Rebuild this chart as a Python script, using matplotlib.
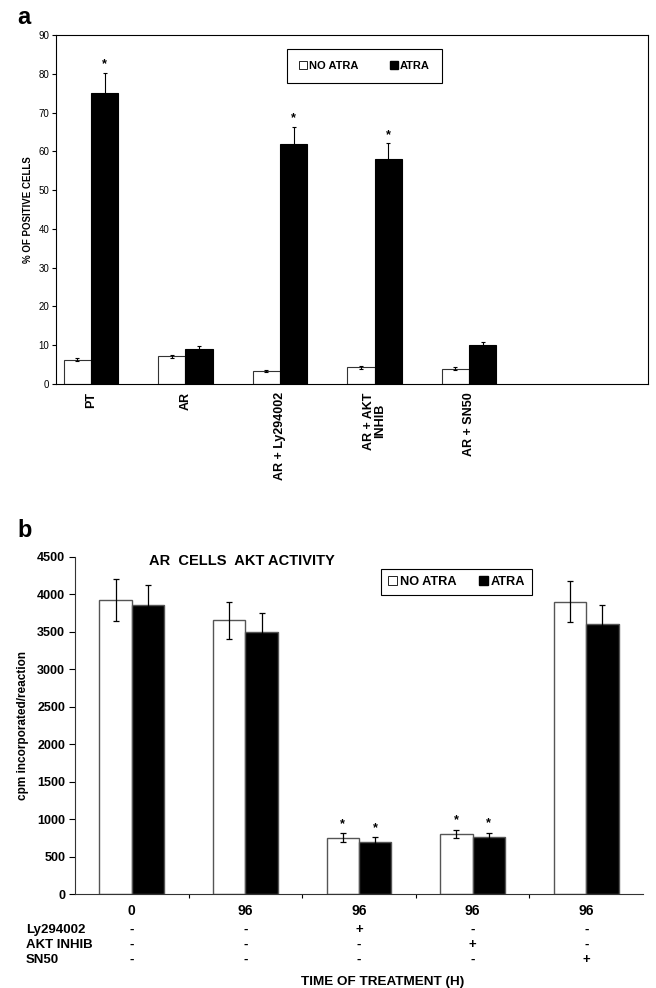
import numpy as np
import matplotlib.pyplot as plt
from matplotlib.patches import Patch
from matplotlib.transforms import blended_transform_factory

plt.rcParams['font.family'] = ['Liberation Sans', 'DejaVu Sans']

# panel a data
groups_a = ['PT', 'AR', 'AR + Ly294002', 'AR + AKT\nINHIB', 'AR + SN50']
no_atra_a = [6.3, 7.1, 3.3, 4.3, 4.0]
no_atra_a_err = [0.4, 0.5, 0.2, 0.3, 0.3]
atra_a = [75, 9.1, 62, 58, 10]
atra_a_err = [5.3, 0.7, 4.3, 4.1, 0.8]
star_a = [True, False, True, True, False]

# panel b data
times_b = ['0', '96', '96', '96', '96']
no_atra_b = [3920, 3650, 750, 805, 3900]
no_atra_b_err = [275, 250, 60, 55, 270]
atra_b = [3860, 3500, 700, 760, 3600]
atra_b_err = [265, 250, 55, 60, 250]
star_b = [False, False, True, True, False]
treat_names = ['Ly294002', 'AKT INHIB', 'SN50']
treat_rows = [['-', '-', '+', '-', '-'],
              ['-', '-', '-', '+', '-'],
              ['-', '-', '-', '-', '+']]

fig = plt.figure(figsize=(6.56, 9.88), dpi=100)

# ---------------- panel a ----------------
ax = fig.add_axes([0.0854, 0.6113, 0.9024, 0.3533])
x = np.arange(len(groups_a))
w = 0.286
ax.bar(x - w / 2, no_atra_a, w, color='white', edgecolor='#333333', linewidth=0.8)
ax.bar(x + w / 2, atra_a, w, color='black', edgecolor='black', linewidth=0.8)
ax.errorbar(x - w / 2, no_atra_a, yerr=no_atra_a_err, fmt='none', ecolor='black',
            elinewidth=0.8, capsize=1.5, capthick=0.8)
ax.errorbar(x + w / 2, atra_a, yerr=atra_a_err, fmt='none', ecolor='black',
            elinewidth=0.8, capsize=1.5, capthick=0.8)
for i in range(len(x)):
    if star_a[i]:
        ax.text(x[i] + w / 2, atra_a[i] + atra_a_err[i] + 0.6, '*', ha='center',
                va='bottom', fontsize=9, fontweight='bold')
ax.set_xlim(-0.37, 5.894)
ax.set_ylim(0, 90)
ax.set_yticks(np.arange(0, 91, 10))
ax.tick_params(axis='y', direction='out', length=3, width=0.8, labelsize=7, pad=2)
ax.set_xticks(x)
ax.set_xticklabels(groups_a, rotation=90, fontsize=9, fontweight='bold', va='top',
                   linespacing=0.95)
ax.tick_params(axis='x', length=0, pad=6)
for s in ax.spines.values():
    s.set_linewidth(0.8)
ax.set_ylabel('% OF POSITIVE CELLS', fontsize=7, fontweight='bold', labelpad=4)
handles = [Patch(facecolor='white', edgecolor='black', linewidth=0.6, label='NO ATRA'),
           Patch(facecolor='black', edgecolor='black', label='ATRA')]
leg = ax.legend(handles=handles, ncol=2, loc='center', bbox_to_anchor=(0.521, 0.911),
                fancybox=False, edgecolor='black', framealpha=1, handlelength=0.7,
                handleheight=0.7, handletextpad=0.2, columnspacing=2.8,
                prop={'weight': 'bold', 'size': 8}, borderpad=1.1)
leg.get_frame().set_linewidth(0.8)
fig.text(0.026, 0.982, 'a', fontsize=17, fontweight='bold', va='center', ha='left')

# ---------------- panel b ----------------
ax2 = fig.add_axes([0.1143, 0.0951, 0.8659, 0.3416])
xb = np.arange(len(times_b))
ax2.bar(xb - w / 2, no_atra_b, w, color='white', edgecolor='#555555', linewidth=1)
ax2.bar(xb + w / 2, atra_b, w, color='black', edgecolor='#555555', linewidth=1)
ax2.errorbar(xb - w / 2, no_atra_b, yerr=no_atra_b_err, fmt='none', ecolor='black',
             elinewidth=0.9, capsize=2.5, capthick=0.9)
ax2.errorbar(xb + w / 2, atra_b, yerr=atra_b_err, fmt='none', ecolor='black',
             elinewidth=0.9, capsize=2.5, capthick=0.9)
for i in range(len(xb)):
    if star_b[i]:
        ax2.text(xb[i] - w / 2, no_atra_b[i] + no_atra_b_err[i] + 40, '*', ha='center',
                 va='bottom', fontsize=9, fontweight='bold')
        ax2.text(xb[i] + w / 2, atra_b[i] + atra_b_err[i] + 40, '*', ha='center',
                 va='bottom', fontsize=9, fontweight='bold')
ax2.set_xlim(-0.5, 4.5)
ax2.set_ylim(0, 4500)
ax2.set_yticks(np.arange(0, 4501, 500))
ax2.set_yticklabels([str(v) for v in range(0, 4501, 500)], fontweight='bold')
ax2.tick_params(axis='y', direction='out', length=4, width=0.8, labelsize=9, pad=3)
ax2.set_xticks(np.arange(0.5, 4, 1))
ax2.set_xticklabels([])
ax2.tick_params(axis='x', direction='out', length=3, width=0.8)
ax2.spines['top'].set_visible(False)
ax2.spines['right'].set_visible(False)
ax2.spines['left'].set_color('#333333')
ax2.spines['bottom'].set_color('#333333')
ax2.set_ylabel('cpm incorporated/reaction', fontsize=8.5, fontweight='bold', labelpad=6)
ax2.set_title('AR  CELLS  AKT ACTIVITY', fontsize=10.5, fontweight='bold',
              x=0.294, y=0.962, va='center')
leg2 = ax2.legend(handles=handles, ncol=2, loc='center', bbox_to_anchor=(0.672, 0.924),
                  fancybox=False, edgecolor='black', framealpha=1, handlelength=0.7,
                  handleheight=0.7, handletextpad=0.2, columnspacing=1.8,
                  prop={'weight': 'bold', 'size': 9.2}, borderpad=0.55)
leg2.get_frame().set_linewidth(0.8)

# treatment table under the axis
tr = blended_transform_factory(ax2.transData, fig.transFigure)
for i, t in enumerate(times_b):
    ax2.text(xb[i], 1 - 911 / 988, t, transform=tr, ha='center', va='center',
             fontsize=10, fontweight='bold')
row_y = [930, 945, 960]
for r, name in enumerate(treat_names):
    fig.text(26 / 656, 1 - row_y[r] / 988, name, ha='left', va='center',
             fontsize=9.5, fontweight='bold')
    for i in range(len(xb)):
        ax2.text(xb[i], 1 - row_y[r] / 988, treat_rows[r][i], transform=tr,
                 ha='center', va='center', fontsize=9.5, fontweight='bold')
fig.text(383 / 656, 1 - 982 / 988, 'TIME OF TREATMENT (H)', ha='center', va='center',
         fontsize=9.7, fontweight='bold')
fig.text(0.026, 0.463, 'b', fontsize=17, fontweight='bold', va='center', ha='left')

fig.savefig('out.png', dpi=100)
